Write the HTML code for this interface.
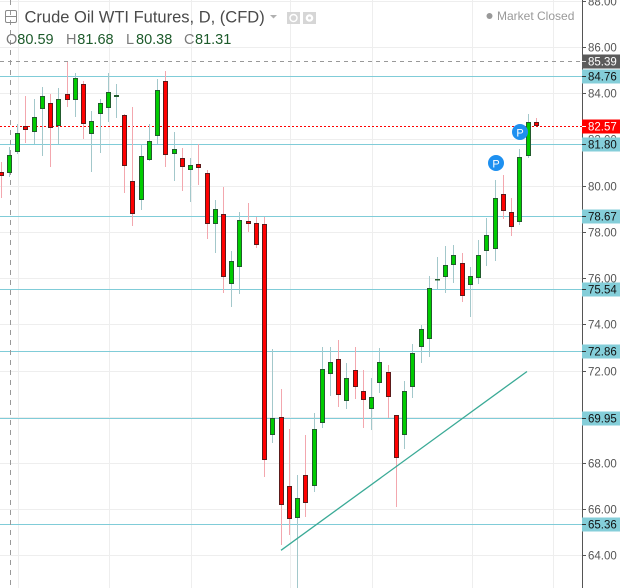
<!DOCTYPE html>
<html><head><meta charset="utf-8">
<style>
html,body{margin:0;padding:0;background:#fff;}
svg{display:block;font-family:"Liberation Sans",Arial,sans-serif;}
.gw{stroke:#a3c8cb;stroke-width:1}
.rw{stroke:#f3a7ae;stroke-width:1}
.g{fill:#00cc00;stroke:#225b2d;stroke-width:1}
.r{fill:#ff0000;stroke:#5b1b1b;stroke-width:1}
.tl{font-size:11.5px;fill:#555}
.bl{font-size:11.5px;fill:#111}
</style></head>
<body>
<svg width="631" height="588" viewBox="0 0 631 588" xmlns="http://www.w3.org/2000/svg">
<rect x="0" y="0" width="631" height="588" fill="#fff"/>
<!-- grid -->
<g stroke="#eeeeee" stroke-width="1" shape-rendering="crispEdges">
<line x1="18.5" y1="0" x2="18.5" y2="588"/>
<line x1="109.5" y1="0" x2="109.5" y2="588"/>
<line x1="191.5" y1="0" x2="191.5" y2="588"/>
<line x1="290.5" y1="0" x2="290.5" y2="588"/>
<line x1="372.5" y1="0" x2="372.5" y2="588"/>
<line x1="472.5" y1="0" x2="472.5" y2="588"/>
<line x1="553.5" y1="0" x2="553.5" y2="588"/>
<line x1="0" y1="1.5" x2="582" y2="1.5"/>
<line x1="0" y1="47.5" x2="582" y2="47.5"/>
<line x1="0" y1="93.5" x2="582" y2="93.5"/>
<line x1="0" y1="139.5" x2="582" y2="139.5"/>
<line x1="0" y1="186.5" x2="582" y2="186.5"/>
<line x1="0" y1="232.5" x2="582" y2="232.5"/>
<line x1="0" y1="278.5" x2="582" y2="278.5"/>
<line x1="0" y1="324.5" x2="582" y2="324.5"/>
<line x1="0" y1="371.5" x2="582" y2="371.5"/>
<line x1="0" y1="417.5" x2="582" y2="417.5"/>
<line x1="0" y1="463.5" x2="582" y2="463.5"/>
<line x1="0" y1="509.5" x2="582" y2="509.5"/>
<line x1="0" y1="555.5" x2="582" y2="555.5"/>
</g>
<!-- level lines -->
<g stroke="#80ccd8" stroke-width="1" shape-rendering="crispEdges">
<line x1="0" y1="76.5" x2="582" y2="76.5"/>
<line x1="0" y1="144.5" x2="582" y2="144.5"/>
<line x1="0" y1="216.5" x2="582" y2="216.5"/>
<line x1="0" y1="289.5" x2="582" y2="289.5"/>
<line x1="0" y1="351.5" x2="582" y2="351.5"/>
<line x1="0" y1="418.5" x2="582" y2="418.5"/>
<line x1="0" y1="524.5" x2="582" y2="524.5"/>
</g>
<line x1="0" y1="61.5" x2="582" y2="61.5" stroke="#999" stroke-dasharray="4,4" shape-rendering="crispEdges"/>
<line x1="10.5" y1="0" x2="10.5" y2="588" stroke="#999" stroke-dasharray="5,5" shape-rendering="crispEdges"/>
<line x1="0" y1="126.5" x2="582" y2="126.5" stroke="#ff0000" stroke-dasharray="2,2" shape-rendering="crispEdges"/>
<!-- candles -->
<g shape-rendering="crispEdges">
<line class="rw" x1="1.5" y1="162" x2="1.5" y2="198"/><rect class="r" x="-0.5" y="172.5" width="4" height="3"/>
<line class="gw" x1="9.5" y1="147" x2="9.5" y2="177"/><rect class="g" x="7.5" y="155.5" width="4" height="17"/>
<line class="gw" x1="17.5" y1="124" x2="17.5" y2="154"/><rect class="g" x="15.5" y="133.5" width="4" height="18"/>
<line class="rw" x1="25.5" y1="96" x2="25.5" y2="143"/><rect class="r" x="23.5" y="126.5" width="4" height="3"/>
<line class="gw" x1="34.5" y1="99" x2="34.5" y2="144"/><rect class="g" x="32.5" y="117.5" width="4" height="14"/>
<line class="gw" x1="42.5" y1="87" x2="42.5" y2="156"/><rect class="g" x="40.5" y="96.5" width="4" height="12"/>
<line class="rw" x1="50.5" y1="94" x2="50.5" y2="167"/><rect class="r" x="48.5" y="103.5" width="4" height="24"/>
<line class="gw" x1="58.5" y1="88" x2="58.5" y2="144"/><rect class="g" x="56.5" y="99.5" width="4" height="26"/>
<line class="rw" x1="67.5" y1="62" x2="67.5" y2="107"/><rect class="r" x="65.5" y="94.5" width="4" height="5"/>
<line class="gw" x1="75.5" y1="73" x2="75.5" y2="117"/><rect class="g" x="73.5" y="78.5" width="4" height="21"/>
<line class="rw" x1="83.5" y1="81" x2="83.5" y2="139"/><rect class="r" x="81.5" y="84.5" width="4" height="39"/>
<line class="gw" x1="91.5" y1="111" x2="91.5" y2="172"/><rect class="g" x="89.5" y="121.5" width="4" height="12"/>
<line class="gw" x1="100.5" y1="99" x2="100.5" y2="153"/><rect class="g" x="98.5" y="103.5" width="4" height="10"/>
<line class="gw" x1="108.5" y1="73" x2="108.5" y2="122"/><rect class="g" x="106.5" y="92.5" width="4" height="15"/>
<line class="gw" x1="116.5" y1="84" x2="116.5" y2="118"/><rect x="114" y="95" width="5" height="2" fill="#225b2d"/>
<line class="rw" x1="124.5" y1="114" x2="124.5" y2="193"/><rect class="r" x="122.5" y="115.5" width="4" height="50"/>
<line class="rw" x1="132.5" y1="107" x2="132.5" y2="226"/><rect class="r" x="130.5" y="181.5" width="4" height="32"/>
<line class="gw" x1="141.5" y1="144" x2="141.5" y2="210"/><rect class="g" x="139.5" y="156.5" width="4" height="43"/>
<line class="gw" x1="149.5" y1="124" x2="149.5" y2="161"/><rect class="g" x="147.5" y="141.5" width="4" height="18"/>
<line class="gw" x1="157.5" y1="79" x2="157.5" y2="144"/><rect class="g" x="155.5" y="90.5" width="4" height="45"/>
<line class="rw" x1="165.5" y1="71" x2="165.5" y2="167"/><rect class="r" x="163.5" y="81.5" width="4" height="73"/>
<line class="gw" x1="174.5" y1="132" x2="174.5" y2="181"/><rect class="g" x="172.5" y="149.5" width="4" height="4"/>
<line class="rw" x1="182.5" y1="148" x2="182.5" y2="191"/><rect class="r" x="180.5" y="158.5" width="4" height="8"/>
<line class="gw" x1="190.5" y1="158" x2="190.5" y2="202"/><rect class="g" x="188.5" y="165.5" width="4" height="4"/>
<line class="rw" x1="198.5" y1="144" x2="198.5" y2="185"/><rect class="r" x="196.5" y="164.5" width="4" height="3"/>
<line class="rw" x1="207.5" y1="170" x2="207.5" y2="239"/><rect class="r" x="205.5" y="173.5" width="4" height="50"/>
<line class="gw" x1="215.5" y1="200" x2="215.5" y2="253"/><rect class="g" x="213.5" y="209.5" width="4" height="14"/>
<line class="rw" x1="223.5" y1="187" x2="223.5" y2="293"/><rect class="r" x="221.5" y="214.5" width="4" height="62"/>
<line class="gw" x1="231.5" y1="251" x2="231.5" y2="307"/><rect class="g" x="229.5" y="261.5" width="4" height="22"/>
<line class="gw" x1="239.5" y1="212" x2="239.5" y2="294"/><rect class="g" x="237.5" y="220.5" width="4" height="46"/>
<line class="rw" x1="248.5" y1="203" x2="248.5" y2="232"/><rect class="r" x="246.5" y="221.5" width="4" height="2"/>
<line class="rw" x1="256.5" y1="217" x2="256.5" y2="248"/><rect class="r" x="254.5" y="223.5" width="4" height="21"/>
<line class="rw" x1="264.5" y1="217" x2="264.5" y2="477"/><rect class="r" x="262.5" y="224.5" width="4" height="235"/>
<line class="gw" x1="272.5" y1="349" x2="272.5" y2="443"/><rect class="g" x="270.5" y="418.5" width="4" height="16"/>
<line class="rw" x1="281.5" y1="389" x2="281.5" y2="545"/><rect class="r" x="279.5" y="417.5" width="4" height="87"/>
<line class="rw" x1="289.5" y1="429" x2="289.5" y2="535"/><rect class="r" x="287.5" y="486.5" width="4" height="32"/>
<line class="gw" x1="297.5" y1="475" x2="297.5" y2="588"/><rect class="g" x="295.5" y="498.5" width="4" height="19"/>
<line class="rw" x1="305.5" y1="435" x2="305.5" y2="517"/><rect class="r" x="303.5" y="475.5" width="4" height="27"/>
<line class="gw" x1="314.5" y1="413" x2="314.5" y2="492"/><rect class="g" x="312.5" y="429.5" width="4" height="56"/>
<line class="gw" x1="322.5" y1="347" x2="322.5" y2="428"/><rect class="g" x="320.5" y="369.5" width="4" height="53"/>
<line class="gw" x1="330.5" y1="347" x2="330.5" y2="396"/><rect class="g" x="328.5" y="362.5" width="4" height="11"/>
<line class="rw" x1="338.5" y1="340" x2="338.5" y2="407"/><rect class="r" x="336.5" y="359.5" width="4" height="35"/>
<line class="gw" x1="346.5" y1="363" x2="346.5" y2="409"/><rect class="g" x="344.5" y="378.5" width="4" height="22"/>
<line class="rw" x1="355.5" y1="347" x2="355.5" y2="399"/><rect class="r" x="353.5" y="370.5" width="4" height="16"/>
<line class="rw" x1="363.5" y1="370" x2="363.5" y2="428"/><rect class="r" x="361.5" y="391.5" width="4" height="8"/>
<line class="gw" x1="371.5" y1="378" x2="371.5" y2="430"/><rect class="g" x="369.5" y="397.5" width="4" height="11"/>
<line class="gw" x1="379.5" y1="348" x2="379.5" y2="393"/><rect class="g" x="377.5" y="362.5" width="4" height="20"/>
<line class="rw" x1="388.5" y1="365" x2="388.5" y2="418"/><rect class="r" x="386.5" y="372.5" width="4" height="24"/>
<line class="rw" x1="396.5" y1="415" x2="396.5" y2="507"/><rect class="r" x="394.5" y="415.5" width="4" height="42"/>
<line class="gw" x1="404.5" y1="381" x2="404.5" y2="449"/><rect class="g" x="402.5" y="391.5" width="4" height="43"/>
<line class="gw" x1="412.5" y1="344" x2="412.5" y2="398"/><rect class="g" x="410.5" y="353.5" width="4" height="33"/>
<line class="gw" x1="421.5" y1="325" x2="421.5" y2="363"/><rect class="g" x="419.5" y="329.5" width="4" height="17"/>
<line class="gw" x1="429.5" y1="276" x2="429.5" y2="357"/><rect class="g" x="427.5" y="288.5" width="4" height="50"/>
<line class="gw" x1="437.5" y1="257" x2="437.5" y2="289"/><rect x="435" y="279" width="5" height="1.5" fill="#225b2d"/>
<line class="gw" x1="445.5" y1="246" x2="445.5" y2="293"/><rect class="g" x="443.5" y="265.5" width="4" height="11"/>
<line class="gw" x1="453.5" y1="245" x2="453.5" y2="283"/><rect class="g" x="451.5" y="255.5" width="4" height="9"/>
<line class="rw" x1="462.5" y1="253" x2="462.5" y2="302"/><rect class="r" x="460.5" y="263.5" width="4" height="32"/>
<line class="gw" x1="470.5" y1="267" x2="470.5" y2="317"/><rect class="g" x="468.5" y="276.5" width="4" height="8"/>
<line class="gw" x1="478.5" y1="240" x2="478.5" y2="284"/><rect class="g" x="476.5" y="255.5" width="4" height="22"/>
<line class="gw" x1="486.5" y1="218" x2="486.5" y2="266"/><rect class="g" x="484.5" y="235.5" width="4" height="15"/>
<line class="gw" x1="495.5" y1="180" x2="495.5" y2="261"/><rect class="g" x="493.5" y="198.5" width="4" height="50"/>
<line class="rw" x1="503.5" y1="175" x2="503.5" y2="219"/><rect class="r" x="501.5" y="194.5" width="4" height="16"/>
<line class="rw" x1="511.5" y1="198" x2="511.5" y2="236"/><rect class="r" x="509.5" y="212.5" width="4" height="14"/>
<line class="gw" x1="519.5" y1="149" x2="519.5" y2="225"/><rect class="g" x="517.5" y="157.5" width="4" height="64"/>
<line class="gw" x1="528.5" y1="114" x2="528.5" y2="158"/><rect class="g" x="526.5" y="122.5" width="4" height="33"/>
<line class="rw" x1="536.5" y1="118" x2="536.5" y2="126"/><rect class="r" x="534.5" y="122.5" width="4" height="3"/>
</g>
<!-- trend line -->
<line x1="281" y1="550.3" x2="527" y2="371.5" stroke="#3aaa96" stroke-width="1.3"/>
<!-- P markers -->
<circle cx="496" cy="163" r="8" fill="#1e90f0"/>
<text x="496" y="167.5" font-size="11" fill="#fff" text-anchor="middle">P</text>
<circle cx="520" cy="132" r="8" fill="#1e90f0"/>
<text x="520" y="136.5" font-size="11" fill="#fff" text-anchor="middle">P</text>
<!-- header -->
<rect x="5.5" y="10.5" width="11" height="12" rx="1.5" fill="none" stroke="#8a8a8a"/>
<line x1="5.5" y1="16.5" x2="16.5" y2="16.5" stroke="#8a8a8a"/>
<text x="24.5" y="22.5" font-size="16.5" fill="#4a4a4a">Crude Oil WTI Futures, D, (CFD)</text>
<polygon points="270,15 277,15 273.5,18.5" fill="#b0b0b0"/>
<rect x="287" y="12" width="13" height="12" fill="#d6d6d6"/>
<circle cx="293.5" cy="18" r="3.5" fill="none" stroke="#fff" stroke-width="1.5"/>
<rect x="303" y="12" width="13" height="12" fill="#d6d6d6"/>
<circle cx="309.5" cy="18" r="3.8" fill="#fff"/>
<circle cx="309.5" cy="18" r="1.5" fill="#d6d6d6"/>
<g fill="#1d5b2b" font-size="14.5">
<text x="6" y="44" fill="#7a7a7a">O</text><text x="17.3" y="44">80.59</text>
<text x="66" y="44" fill="#7a7a7a">H</text><text x="77.3" y="44">81.68</text>
<text x="126" y="44" fill="#7a7a7a">L</text><text x="136" y="44">80.38</text>
<text x="184" y="44" fill="#7a7a7a">C</text><text x="195" y="44">81.31</text>
</g>
<circle cx="489.5" cy="16" r="3" fill="#999"/>
<text x="497" y="20" font-size="12" fill="#999">Market Closed</text>
<!-- axis -->
<rect x="583" y="0" width="48" height="588" fill="#fff"/>
<line x1="582.5" y1="0" x2="582.5" y2="588" stroke="#555" shape-rendering="crispEdges"/>
<g stroke="#555" shape-rendering="crispEdges">
<line x1="582" y1="1.5" x2="586" y2="1.5"/>
<line x1="582" y1="47.5" x2="586" y2="47.5"/>
<line x1="582" y1="93.5" x2="586" y2="93.5"/>
<line x1="582" y1="139.5" x2="586" y2="139.5"/>
<line x1="582" y1="186.5" x2="586" y2="186.5"/>
<line x1="582" y1="232.5" x2="586" y2="232.5"/>
<line x1="582" y1="278.5" x2="586" y2="278.5"/>
<line x1="582" y1="324.5" x2="586" y2="324.5"/>
<line x1="582" y1="371.5" x2="586" y2="371.5"/>
<line x1="582" y1="463.5" x2="586" y2="463.5"/>
<line x1="582" y1="509.5" x2="586" y2="509.5"/>
<line x1="582" y1="555.5" x2="586" y2="555.5"/>
</g>
<g class="tl">
<text x="588" y="5.5">88.00</text>
<text x="588" y="51.5">86.00</text>
<text x="588" y="97.5">84.00</text>
<text x="588" y="143.5">82.00</text>
<text x="588" y="190.5">80.00</text>
<text x="588" y="236.5">78.00</text>
<text x="588" y="282.5">76.00</text>
<text x="588" y="328.5">74.00</text>
<text x="588" y="375.5">72.00</text>
<text x="588" y="467.5">68.00</text>
<text x="588" y="513.5">66.00</text>
<text x="588" y="559.5">64.00</text>
</g>
<!-- boxed labels -->
<rect x="582" y="54.5" width="38" height="14" fill="#5b5b5b"/>
<line x1="582" y1="61.5" x2="586" y2="61.5" stroke="#ddd"/>
<text x="588" y="65.5" font-size="11.5" fill="#fff">85.39</text>
<rect x="582" y="69.5" width="38" height="14" fill="#84ced9"/>
<line x1="582" y1="76.5" x2="586" y2="76.5" stroke="#333"/>
<text class="bl" x="588" y="80.5">84.76</text>
<rect x="582" y="119.5" width="38" height="14" fill="#ff0000"/>
<line x1="582" y1="126.5" x2="586" y2="126.5" stroke="#fff"/>
<text x="588" y="130.5" font-size="11.5" fill="#fff">82.57</text>
<rect x="582" y="137.5" width="38" height="14" fill="#84ced9"/>
<line x1="582" y1="144.5" x2="586" y2="144.5" stroke="#333"/>
<text class="bl" x="588" y="148.5">81.80</text>
<rect x="582" y="209.5" width="38" height="14" fill="#84ced9"/>
<line x1="582" y1="216.5" x2="586" y2="216.5" stroke="#333"/>
<text class="bl" x="588" y="220.5">78.67</text>
<rect x="582" y="282.5" width="38" height="14" fill="#84ced9"/>
<line x1="582" y1="289.5" x2="586" y2="289.5" stroke="#333"/>
<text class="bl" x="588" y="293.5">75.54</text>
<rect x="582" y="344.5" width="38" height="14" fill="#84ced9"/>
<line x1="582" y1="351.5" x2="586" y2="351.5" stroke="#333"/>
<text class="bl" x="588" y="355.5">72.86</text>
<rect x="582" y="411.5" width="38" height="14" fill="#84ced9"/>
<line x1="582" y1="418.5" x2="586" y2="418.5" stroke="#333"/>
<text class="bl" x="588" y="422.5">69.95</text>
<rect x="582" y="517.5" width="38" height="14" fill="#84ced9"/>
<line x1="582" y1="524.5" x2="586" y2="524.5" stroke="#333"/>
<text class="bl" x="588" y="528.5">65.36</text>
</svg>
</body></html>
